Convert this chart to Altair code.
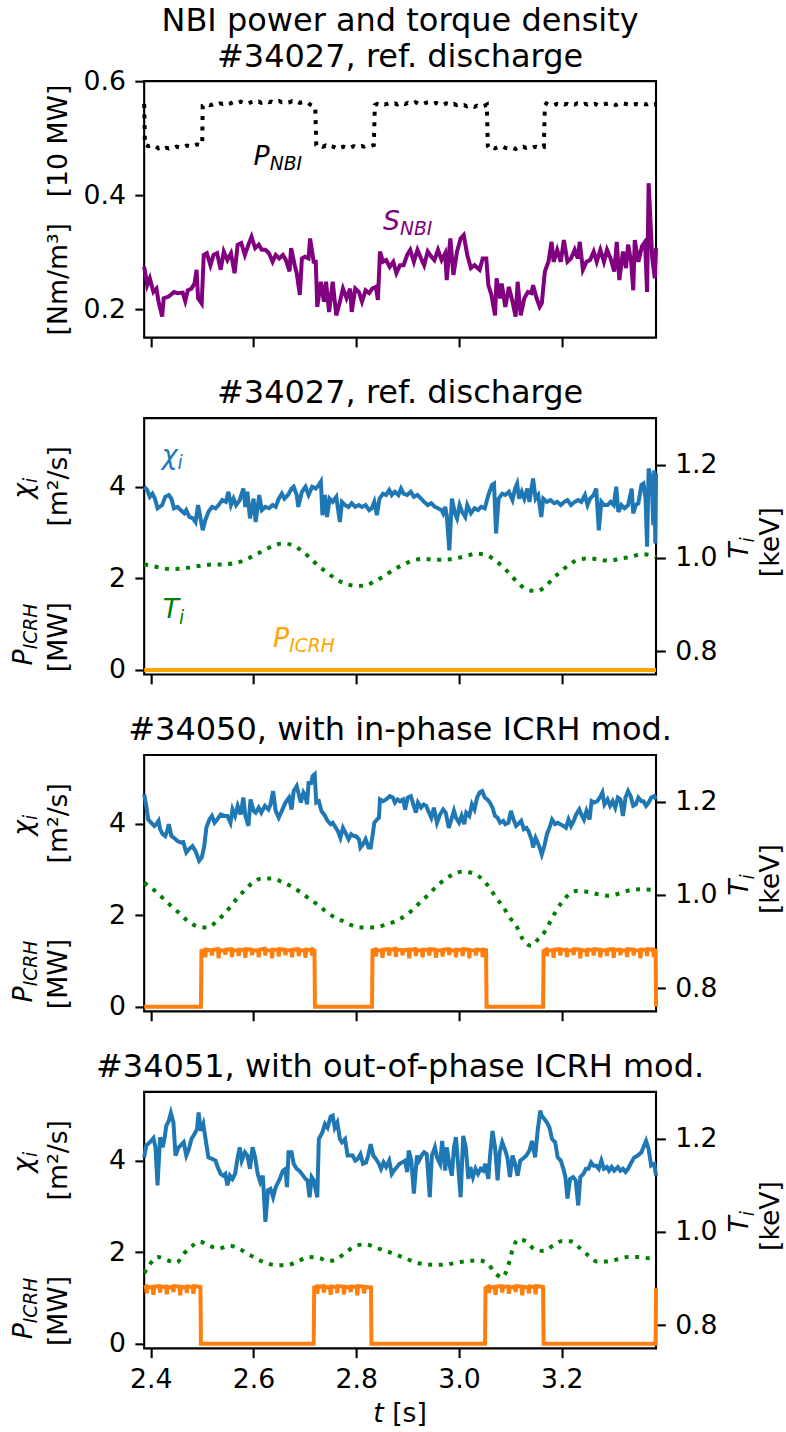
import altair as alt
import pandas as pd

FONT = "DejaVu Sans"
XDOM = [2.387, 3.3834]
W, H = 512, 256.5
FS, SFS, TFS = 26.7, 18.7, 32
LW = 4.0
TICK = 9.3
BLUE, GREEN, PURPLE = "#1f77b4", "#008000", "#800080"
ORANGE, TORANGE = "#FFA500", "#ff7f0e"
X_TICKS = [2.4, 2.6, 2.8, 3.0, 3.2]

# ---------------- panel 1: NBI power [10 MW] and torque density [Nm/m^3]
pnbi = [
    (2.387, 0.560), (2.3885, 0.488), (2.390, 0.488), (2.395, 0.486), (2.400, 0.487), (2.405, 0.484),
    (2.410, 0.485), (2.415, 0.482), (2.420, 0.484), (2.425, 0.481), (2.430, 0.483), (2.435, 0.482),
    (2.440, 0.484), (2.445, 0.483), (2.450, 0.485), (2.455, 0.484), (2.460, 0.486), (2.465, 0.485),
    (2.470, 0.487), (2.475, 0.486), (2.480, 0.488), (2.485, 0.487), (2.490, 0.489), (2.495, 0.488),
    (2.500, 0.489), (2.501, 0.557), (2.505, 0.558), (2.510, 0.560), (2.515, 0.558), (2.520, 0.559),
    (2.525, 0.561), (2.530, 0.559), (2.535, 0.561), (2.540, 0.560), (2.545, 0.562), (2.550, 0.560),
    (2.555, 0.561), (2.560, 0.563), (2.565, 0.561), (2.570, 0.562), (2.575, 0.564), (2.580, 0.562),
    (2.585, 0.563), (2.590, 0.561), (2.595, 0.563), (2.600, 0.564), (2.605, 0.562), (2.610, 0.564),
    (2.615, 0.562), (2.620, 0.563), (2.625, 0.565), (2.630, 0.563), (2.635, 0.564), (2.640, 0.562),
    (2.645, 0.564), (2.650, 0.565), (2.655, 0.563), (2.660, 0.564), (2.665, 0.562), (2.670, 0.563),
    (2.675, 0.565), (2.680, 0.563), (2.685, 0.564), (2.690, 0.562), (2.695, 0.563), (2.700, 0.561),
    (2.705, 0.562), (2.710, 0.559), (2.715, 0.557), (2.720, 0.555), (2.722, 0.488), (2.725, 0.486),
    (2.730, 0.488), (2.735, 0.485), (2.740, 0.487), (2.745, 0.484), (2.750, 0.486), (2.755, 0.485),
    (2.760, 0.483), (2.765, 0.486), (2.770, 0.484), (2.775, 0.485), (2.780, 0.483), (2.785, 0.485),
    (2.790, 0.484), (2.795, 0.486), (2.800, 0.484), (2.805, 0.485), (2.810, 0.486), (2.815, 0.485),
    (2.820, 0.487), (2.825, 0.486), (2.830, 0.487), (2.834, 0.488), (2.836, 0.558), (2.840, 0.560),
    (2.845, 0.559), (2.850, 0.561), (2.855, 0.559), (2.860, 0.560), (2.865, 0.562), (2.870, 0.560),
    (2.875, 0.561), (2.880, 0.559), (2.885, 0.561), (2.890, 0.562), (2.895, 0.560), (2.900, 0.562),
    (2.905, 0.560), (2.910, 0.561), (2.915, 0.563), (2.920, 0.561), (2.925, 0.562), (2.930, 0.560),
    (2.935, 0.562), (2.940, 0.563), (2.945, 0.561), (2.950, 0.560), (2.955, 0.562), (2.960, 0.560),
    (2.965, 0.561), (2.970, 0.559), (2.975, 0.561), (2.980, 0.560), (2.985, 0.558), (2.990, 0.560),
    (2.995, 0.558), (3.000, 0.559), (3.005, 0.557), (3.010, 0.558), (3.015, 0.556), (3.020, 0.558),
    (3.025, 0.557), (3.030, 0.555), (3.035, 0.557), (3.040, 0.555), (3.045, 0.556), (3.050, 0.557),
    (3.054, 0.559), (3.056, 0.486), (3.060, 0.481), (3.065, 0.484), (3.070, 0.482), (3.075, 0.484),
    (3.080, 0.483), (3.085, 0.485), (3.090, 0.483), (3.095, 0.482), (3.100, 0.484), (3.105, 0.483),
    (3.110, 0.481), (3.115, 0.484), (3.120, 0.483), (3.125, 0.485), (3.130, 0.483), (3.135, 0.484),
    (3.140, 0.482), (3.145, 0.484), (3.150, 0.485), (3.155, 0.484), (3.160, 0.486), (3.165, 0.485),
    (3.167, 0.557), (3.170, 0.561), (3.175, 0.559), (3.180, 0.560), (3.185, 0.558), (3.190, 0.560),
    (3.195, 0.559), (3.200, 0.561), (3.205, 0.559), (3.210, 0.560), (3.215, 0.558), (3.220, 0.560),
    (3.225, 0.559), (3.230, 0.561), (3.235, 0.560), (3.240, 0.558), (3.245, 0.560), (3.250, 0.559),
    (3.255, 0.561), (3.260, 0.559), (3.265, 0.560), (3.270, 0.558), (3.275, 0.560), (3.280, 0.559),
    (3.285, 0.560), (3.290, 0.561), (3.295, 0.559), (3.300, 0.560), (3.305, 0.558), (3.310, 0.560),
    (3.315, 0.559), (3.320, 0.561), (3.325, 0.560), (3.330, 0.559), (3.335, 0.561), (3.340, 0.559),
    (3.345, 0.560), (3.350, 0.559), (3.355, 0.561), (3.360, 0.560), (3.365, 0.559), (3.370, 0.561),
    (3.375, 0.560), (3.380, 0.559), (3.3834, 0.560),
]

snbi = [
    (2.387, 0.274), (2.393, 0.242), (2.398, 0.254), (2.405, 0.230), (2.411, 0.236), (2.415, 0.213),
    (2.422, 0.187), (2.425, 0.219), (2.435, 0.222), (2.445, 0.230), (2.452, 0.228), (2.462, 0.229),
    (2.467, 0.214), (2.472, 0.233), (2.479, 0.236), (2.485, 0.245), (2.489, 0.269), (2.492, 0.219),
    (2.499, 0.210), (2.503, 0.295), (2.509, 0.298), (2.516, 0.277), (2.522, 0.295), (2.529, 0.298),
    (2.536, 0.269), (2.542, 0.301), (2.549, 0.286), (2.556, 0.298), (2.563, 0.263), (2.569, 0.313),
    (2.576, 0.316), (2.583, 0.295), (2.590, 0.313), (2.596, 0.327), (2.603, 0.307), (2.610, 0.313),
    (2.616, 0.304), (2.623, 0.304), (2.630, 0.298), (2.637, 0.283), (2.643, 0.295), (2.650, 0.289),
    (2.657, 0.295), (2.663, 0.286), (2.670, 0.266), (2.673, 0.307), (2.680, 0.277), (2.684, 0.263),
    (2.690, 0.225), (2.694, 0.289), (2.700, 0.292), (2.707, 0.289), (2.710, 0.324), (2.717, 0.283),
    (2.721, 0.283), (2.724, 0.204), (2.731, 0.248), (2.737, 0.213), (2.741, 0.248), (2.747, 0.195),
    (2.754, 0.248), (2.761, 0.189), (2.768, 0.213), (2.774, 0.236), (2.781, 0.219), (2.788, 0.236),
    (2.791, 0.195), (2.798, 0.236), (2.805, 0.230), (2.811, 0.213), (2.818, 0.233), (2.825, 0.228),
    (2.831, 0.236), (2.838, 0.239), (2.842, 0.216), (2.846, 0.301), (2.852, 0.283), (2.858, 0.286),
    (2.865, 0.274), (2.872, 0.283), (2.878, 0.263), (2.885, 0.277), (2.892, 0.277), (2.899, 0.295),
    (2.905, 0.304), (2.912, 0.283), (2.919, 0.304), (2.926, 0.289), (2.932, 0.277), (2.939, 0.301),
    (2.946, 0.292), (2.952, 0.286), (2.959, 0.304), (2.966, 0.286), (2.973, 0.298), (2.976, 0.251),
    (2.983, 0.324), (2.989, 0.260), (2.996, 0.301), (3.003, 0.324), (3.009, 0.330), (3.016, 0.295),
    (3.023, 0.272), (3.030, 0.277), (3.040, 0.269), (3.046, 0.289), (3.053, 0.289), (3.057, 0.242),
    (3.063, 0.225), (3.070, 0.189), (3.073, 0.254), (3.080, 0.219), (3.083, 0.245), (3.090, 0.204),
    (3.097, 0.239), (3.104, 0.213), (3.110, 0.187), (3.114, 0.248), (3.120, 0.189), (3.127, 0.219),
    (3.134, 0.230), (3.141, 0.228), (3.144, 0.242), (3.151, 0.219), (3.157, 0.204), (3.161, 0.210),
    (3.167, 0.266), (3.174, 0.283), (3.180, 0.318), (3.184, 0.283), (3.191, 0.304), (3.198, 0.283),
    (3.204, 0.321), (3.211, 0.283), (3.218, 0.289), (3.225, 0.304), (3.231, 0.289), (3.235, 0.318),
    (3.241, 0.269), (3.248, 0.283), (3.255, 0.286), (3.262, 0.301), (3.268, 0.283), (3.275, 0.304),
    (3.282, 0.283), (3.288, 0.304), (3.295, 0.289), (3.302, 0.266), (3.307, 0.318), (3.312, 0.251),
    (3.319, 0.301), (3.325, 0.272), (3.329, 0.313), (3.335, 0.283), (3.339, 0.233), (3.342, 0.321),
    (3.349, 0.283), (3.356, 0.310), (3.362, 0.318), (3.366, 0.230), (3.369, 0.421), (3.376, 0.289),
    (3.381, 0.254), (3.3834, 0.307),
]

# ---------------- panel 2: #34027 reference discharge
chi2 = [
    (2.387, 4.00), (2.393, 3.93), (2.398, 3.78), (2.403, 3.85), (2.408, 3.74), (2.413, 3.53),
    (2.422, 3.60), (2.428, 3.78), (2.435, 3.82), (2.440, 3.74), (2.445, 3.53), (2.452, 3.56),
    (2.458, 3.49), (2.465, 3.42), (2.469, 3.49), (2.475, 3.34), (2.482, 3.31), (2.487, 3.23),
    (2.492, 3.60), (2.495, 3.42), (2.501, 3.05), (2.506, 3.27), (2.512, 3.45), (2.519, 3.56),
    (2.526, 3.53), (2.532, 3.60), (2.539, 3.71), (2.546, 3.67), (2.551, 3.89), (2.556, 3.60),
    (2.561, 3.74), (2.566, 3.60), (2.573, 3.71), (2.580, 3.96), (2.584, 3.56), (2.588, 3.89),
    (2.593, 3.31), (2.600, 3.74), (2.604, 3.23), (2.611, 3.82), (2.616, 3.49), (2.623, 3.56),
    (2.630, 3.53), (2.637, 3.60), (2.643, 3.56), (2.649, 3.74), (2.655, 3.85), (2.660, 3.74),
    (2.667, 3.82), (2.674, 3.96), (2.678, 4.00), (2.684, 3.82), (2.687, 3.56), (2.694, 3.89),
    (2.701, 4.00), (2.707, 3.82), (2.714, 4.00), (2.721, 3.96), (2.727, 4.04), (2.731, 4.11),
    (2.734, 3.38), (2.739, 3.82), (2.743, 3.34), (2.748, 3.74), (2.754, 3.67), (2.761, 3.78),
    (2.768, 3.23), (2.772, 3.67), (2.778, 3.60), (2.785, 3.56), (2.791, 3.64), (2.798, 3.56),
    (2.805, 3.60), (2.811, 3.56), (2.818, 3.60), (2.825, 3.49), (2.830, 3.53), (2.835, 3.67),
    (2.840, 3.38), (2.845, 3.74), (2.852, 3.85), (2.858, 3.82), (2.864, 3.93), (2.869, 3.82),
    (2.875, 3.89), (2.882, 3.82), (2.887, 3.96), (2.892, 3.85), (2.899, 3.82), (2.906, 3.89),
    (2.912, 3.78), (2.919, 3.82), (2.926, 3.74), (2.932, 3.67), (2.939, 3.60), (2.946, 3.64),
    (2.953, 3.56), (2.959, 3.53), (2.966, 3.49), (2.969, 3.42), (2.973, 3.56), (2.976, 3.38),
    (2.981, 2.61), (2.986, 3.74), (2.992, 3.42), (2.996, 3.31), (3.001, 3.60), (3.006, 3.45),
    (3.012, 3.34), (3.016, 3.60), (3.023, 3.42), (3.030, 3.53), (3.037, 3.49), (3.043, 3.56),
    (3.050, 3.53), (3.057, 3.82), (3.064, 4.04), (3.068, 4.07), (3.072, 2.98), (3.077, 3.74),
    (3.084, 3.85), (3.090, 3.82), (3.097, 3.89), (3.104, 3.71), (3.109, 3.96), (3.113, 4.07),
    (3.117, 3.74), (3.122, 3.89), (3.127, 3.74), (3.133, 3.96), (3.137, 3.67), (3.144, 4.18),
    (3.149, 3.74), (3.154, 3.82), (3.160, 3.34), (3.164, 3.74), (3.171, 3.67), (3.178, 3.71),
    (3.185, 3.64), (3.191, 3.67), (3.198, 3.60), (3.205, 3.67), (3.211, 3.71), (3.218, 3.60),
    (3.225, 3.67), (3.232, 3.71), (3.238, 3.67), (3.245, 3.82), (3.250, 3.60), (3.255, 3.74),
    (3.262, 3.82), (3.267, 3.96), (3.272, 3.05), (3.277, 3.67), (3.282, 3.60), (3.289, 3.60),
    (3.295, 3.67), (3.301, 3.60), (3.306, 4.00), (3.310, 3.45), (3.316, 3.60), (3.322, 3.53),
    (3.329, 3.60), (3.336, 3.96), (3.339, 3.42), (3.344, 3.60), (3.349, 3.64), (3.355, 4.04),
    (3.359, 4.07), (3.363, 3.74), (3.366, 2.69), (3.369, 4.40), (3.375, 4.11), (3.378, 3.16),
    (3.380, 4.36), (3.382, 2.76), (3.3834, 4.29),
]
ti2 = [
    (2.387, 0.986), (2.398, 0.984), (2.418, 0.979), (2.438, 0.976), (2.461, 0.977), (2.482, 0.981),
    (2.502, 0.984), (2.522, 0.986), (2.543, 0.986), (2.563, 0.989), (2.583, 0.995), (2.602, 1.006),
    (2.620, 1.016), (2.638, 1.026), (2.657, 1.031), (2.677, 1.027), (2.695, 1.014), (2.711, 0.999),
    (2.727, 0.982), (2.743, 0.969), (2.761, 0.954), (2.779, 0.945), (2.799, 0.940), (2.818, 0.941),
    (2.837, 0.951), (2.857, 0.963), (2.873, 0.975), (2.892, 0.986), (2.911, 0.995), (2.931, 0.998),
    (2.951, 0.996), (2.971, 0.996), (2.993, 0.999), (3.013, 1.004), (3.033, 1.009), (3.053, 1.006),
    (3.070, 0.995), (3.087, 0.979), (3.101, 0.963), (3.115, 0.946), (3.133, 0.932), (3.151, 0.929),
    (3.168, 0.939), (3.183, 0.956), (3.198, 0.971), (3.215, 0.986), (3.234, 0.997), (3.254, 0.999),
    (3.274, 0.996), (3.294, 0.994), (3.314, 0.999), (3.334, 1.002), (3.355, 1.008), (3.373, 1.006),
    (3.3834, 1.002),
]
icrh2 = [(2.387, 0.0), (3.3834, 0.0)]

# ---------------- panel 3: #34050 in-phase ICRH modulation
chi3 = [
    (2.387, 4.64), (2.391, 4.39), (2.395, 4.09), (2.401, 4.02), (2.407, 3.95), (2.411, 3.99),
    (2.415, 4.06), (2.418, 3.88), (2.423, 3.77), (2.428, 3.73), (2.432, 3.84), (2.435, 3.99),
    (2.440, 3.73), (2.445, 3.69), (2.452, 3.62), (2.458, 3.59), (2.463, 3.60), (2.469, 3.37),
    (2.474, 3.44), (2.481, 3.51), (2.487, 3.40), (2.494, 3.19), (2.499, 3.26), (2.504, 3.51),
    (2.508, 3.91), (2.514, 4.09), (2.519, 4.17), (2.524, 4.02), (2.529, 4.09), (2.536, 4.20),
    (2.543, 4.17), (2.549, 4.17), (2.555, 4.02), (2.559, 4.31), (2.564, 4.17), (2.569, 4.39),
    (2.575, 4.20), (2.580, 4.57), (2.584, 4.17), (2.590, 3.95), (2.594, 4.53), (2.600, 4.28),
    (2.604, 4.24), (2.610, 4.35), (2.615, 4.24), (2.622, 4.39), (2.629, 4.31), (2.633, 4.42),
    (2.638, 4.71), (2.643, 4.28), (2.649, 4.13), (2.655, 4.28), (2.662, 4.46), (2.669, 4.57),
    (2.674, 4.31), (2.678, 4.71), (2.684, 4.82), (2.688, 4.64), (2.692, 4.46), (2.697, 4.68),
    (2.701, 4.60), (2.704, 4.42), (2.707, 4.89), (2.712, 4.89), (2.715, 5.04), (2.719, 5.08),
    (2.722, 4.46), (2.727, 4.49), (2.732, 4.28), (2.739, 4.17), (2.744, 4.06), (2.750, 3.99),
    (2.754, 4.02), (2.760, 3.91), (2.764, 3.84), (2.769, 3.69), (2.774, 3.91), (2.779, 3.80),
    (2.785, 3.66), (2.790, 3.77), (2.795, 3.73), (2.799, 3.73), (2.805, 3.66), (2.808, 3.48),
    (2.813, 3.55), (2.818, 3.66), (2.824, 3.48), (2.828, 3.48), (2.832, 3.77), (2.835, 4.02),
    (2.840, 4.09), (2.844, 4.13), (2.846, 4.53), (2.852, 4.49), (2.858, 4.53), (2.865, 4.60),
    (2.871, 4.57), (2.875, 4.46), (2.880, 4.53), (2.885, 4.49), (2.891, 4.53), (2.895, 4.31),
    (2.900, 4.57), (2.906, 4.60), (2.911, 4.42), (2.916, 4.24), (2.920, 4.46), (2.926, 4.35),
    (2.931, 4.42), (2.936, 4.39), (2.940, 4.28), (2.946, 4.13), (2.951, 4.35), (2.957, 4.02),
    (2.963, 4.20), (2.969, 4.31), (2.974, 4.24), (2.980, 3.91), (2.985, 4.09), (2.990, 4.28),
    (2.994, 4.13), (3.000, 4.02), (3.005, 4.17), (3.010, 3.99), (3.014, 4.24), (3.020, 4.17),
    (3.025, 4.42), (3.030, 4.31), (3.035, 4.57), (3.040, 4.68), (3.045, 4.71), (3.050, 4.57),
    (3.055, 4.53), (3.060, 4.46), (3.065, 4.35), (3.070, 4.17), (3.075, 4.13), (3.080, 4.02),
    (3.086, 4.06), (3.090, 3.99), (3.096, 4.02), (3.101, 4.28), (3.106, 4.09), (3.111, 3.95),
    (3.115, 3.99), (3.121, 4.06), (3.126, 3.88), (3.131, 3.91), (3.135, 3.84), (3.141, 3.66),
    (3.144, 3.48), (3.149, 3.69), (3.153, 3.59), (3.158, 3.44), (3.161, 3.33), (3.166, 3.51),
    (3.171, 3.77), (3.176, 3.91), (3.181, 4.09), (3.187, 3.99), (3.192, 4.02), (3.197, 3.99),
    (3.203, 3.95), (3.208, 3.91), (3.213, 4.09), (3.218, 3.95), (3.223, 4.06), (3.228, 4.20),
    (3.234, 4.31), (3.238, 4.20), (3.243, 4.09), (3.248, 4.28), (3.254, 4.09), (3.258, 4.49),
    (3.263, 4.46), (3.269, 4.49), (3.274, 4.57), (3.279, 4.68), (3.283, 4.42), (3.289, 4.53),
    (3.294, 4.39), (3.299, 4.49), (3.304, 4.35), (3.309, 4.57), (3.314, 4.53), (3.319, 4.17),
    (3.324, 4.57), (3.329, 4.71), (3.334, 4.60), (3.339, 4.39), (3.344, 4.42), (3.349, 4.57),
    (3.355, 4.49), (3.359, 4.49), (3.364, 4.39), (3.369, 4.46), (3.374, 4.57), (3.380, 4.60),
    (3.3834, 4.53),
]
ti3 = [
    (2.387, 1.026), (2.393, 1.021), (2.411, 1.006), (2.427, 0.989), (2.442, 0.974), (2.457, 0.959),
    (2.472, 0.944), (2.492, 0.932), (2.510, 0.930), (2.526, 0.941), (2.541, 0.957), (2.556, 0.976),
    (2.569, 0.994), (2.583, 1.010), (2.598, 1.026), (2.616, 1.035), (2.637, 1.035), (2.655, 1.028),
    (2.674, 1.018), (2.692, 1.005), (2.709, 0.991), (2.725, 0.979), (2.741, 0.964), (2.759, 0.951),
    (2.778, 0.942), (2.798, 0.932), (2.818, 0.930), (2.838, 0.931), (2.858, 0.936), (2.877, 0.944),
    (2.895, 0.955), (2.911, 0.969), (2.926, 0.986), (2.941, 1.001), (2.956, 1.018), (2.971, 1.032),
    (2.989, 1.044), (3.008, 1.050), (3.027, 1.046), (3.045, 1.034), (3.060, 1.014), (3.072, 0.994),
    (3.086, 0.974), (3.099, 0.951), (3.113, 0.930), (3.124, 0.905), (3.140, 0.891), (3.154, 0.905),
    (3.168, 0.923), (3.178, 0.944), (3.188, 0.964), (3.200, 0.984), (3.213, 1.000), (3.232, 1.009),
    (3.252, 1.006), (3.272, 1.001), (3.292, 0.998), (3.312, 1.003), (3.332, 1.010), (3.353, 1.012),
    (3.373, 1.011), (3.3834, 1.010),
]
icrh3 = [
    (2.387, 0.0), (2.4975, 0.0),
    (2.4985, 1.22), (2.5045, 1.24), (2.506, 1.08), (2.5075, 1.25), (2.5175, 1.23), (2.519, 1.12),
    (2.5205, 1.24), (2.5305, 1.26), (2.532, 1.06), (2.5335, 1.24), (2.5435, 1.23), (2.545, 1.14),
    (2.5465, 1.25), (2.5565, 1.26), (2.558, 1.09), (2.5595, 1.24), (2.5695, 1.23), (2.571, 1.11),
    (2.5725, 1.25), (2.5825, 1.24), (2.584, 1.07), (2.5855, 1.26), (2.5955, 1.25), (2.597, 1.13),
    (2.5985, 1.23), (2.6085, 1.24), (2.610, 1.08), (2.6115, 1.25), (2.6215, 1.27), (2.623, 1.12),
    (2.6245, 1.24), (2.6345, 1.23), (2.636, 1.06), (2.6375, 1.25), (2.6475, 1.24), (2.649, 1.10),
    (2.6505, 1.26), (2.6605, 1.25), (2.662, 1.13), (2.6635, 1.23), (2.6735, 1.24), (2.675, 1.08),
    (2.6765, 1.25), (2.6865, 1.26), (2.688, 1.11), (2.6895, 1.24), (2.6995, 1.23), (2.701, 1.07),
    (2.7025, 1.25), (2.7125, 1.24), (2.714, 1.12), (2.7155, 1.25), (2.7185, 1.23), (2.7195, 0.0),
    (2.8305, 0.0),
    (2.8315, 1.23), (2.8365, 1.25), (2.838, 1.10), (2.8395, 1.24), (2.8495, 1.23), (2.851, 1.07),
    (2.8525, 1.25), (2.8625, 1.26), (2.864, 1.12), (2.8655, 1.24), (2.8755, 1.27), (2.877, 1.09),
    (2.8785, 1.25), (2.8885, 1.24), (2.890, 1.13), (2.8915, 1.23), (2.9015, 1.25), (2.903, 1.06),
    (2.9045, 1.24), (2.9145, 1.26), (2.916, 1.11), (2.9175, 1.24), (2.9275, 1.23), (2.929, 1.08),
    (2.9305, 1.25), (2.9405, 1.24), (2.942, 1.12), (2.9435, 1.26), (2.9535, 1.25), (2.955, 1.07),
    (2.9565, 1.23), (2.9665, 1.24), (2.968, 1.10), (2.9695, 1.25), (2.9795, 1.26), (2.981, 1.13),
    (2.9825, 1.24), (2.9925, 1.23), (2.994, 1.08), (2.9955, 1.25), (3.0055, 1.24), (3.007, 1.11),
    (3.0085, 1.26), (3.0185, 1.25), (3.020, 1.06), (3.0215, 1.24), (3.0315, 1.23), (3.033, 1.12),
    (3.0345, 1.25), (3.0445, 1.24), (3.046, 1.09), (3.0475, 1.25), (3.0525, 1.24), (3.0535, 0.0),
    (3.1635, 0.0),
    (3.1645, 1.22), (3.1695, 1.25), (3.171, 1.11), (3.1725, 1.24), (3.1825, 1.23), (3.184, 1.07),
    (3.1855, 1.25), (3.1955, 1.26), (3.197, 1.12), (3.1985, 1.24), (3.2085, 1.25), (3.210, 1.09),
    (3.2115, 1.23), (3.2215, 1.24), (3.223, 1.13), (3.2245, 1.26), (3.2345, 1.25), (3.236, 1.06),
    (3.2375, 1.24), (3.2475, 1.23), (3.249, 1.10), (3.2505, 1.25), (3.2605, 1.24), (3.262, 1.12),
    (3.2635, 1.26), (3.2735, 1.25), (3.275, 1.08), (3.2765, 1.24), (3.2865, 1.23), (3.288, 1.11),
    (3.2895, 1.25), (3.2995, 1.26), (3.301, 1.07), (3.3025, 1.24), (3.3125, 1.25), (3.314, 1.13),
    (3.3155, 1.23), (3.3255, 1.24), (3.327, 1.09), (3.3285, 1.26), (3.3385, 1.25), (3.340, 1.12),
    (3.3415, 1.24), (3.3515, 1.23), (3.353, 1.06), (3.3545, 1.25), (3.3645, 1.24), (3.366, 1.11),
    (3.3675, 1.26), (3.3775, 1.25), (3.379, 1.09), (3.3805, 1.24), (3.3825, 1.23), (3.3834, 0.0),
]

# ---------------- panel 4: #34051 out-of-phase ICRH modulation
chi4 = [
    (2.387, 4.07), (2.391, 4.33), (2.398, 4.40), (2.405, 4.49), (2.409, 4.29), (2.413, 3.46),
    (2.418, 4.51), (2.423, 4.29), (2.427, 4.51), (2.430, 4.76), (2.435, 4.87), (2.439, 5.04),
    (2.444, 4.83), (2.448, 4.11), (2.454, 4.29), (2.458, 4.33), (2.464, 4.40), (2.469, 4.11),
    (2.474, 4.25), (2.479, 4.47), (2.485, 4.58), (2.490, 4.69), (2.493, 5.05), (2.497, 4.65),
    (2.502, 4.80), (2.508, 4.36), (2.512, 4.07), (2.519, 4.04), (2.526, 4.00), (2.530, 3.86),
    (2.536, 3.71), (2.541, 3.67), (2.545, 3.71), (2.549, 3.46), (2.554, 3.67), (2.559, 3.60),
    (2.564, 3.71), (2.569, 4.07), (2.573, 4.29), (2.577, 4.00), (2.583, 4.18), (2.588, 4.11),
    (2.593, 3.82), (2.598, 4.29), (2.603, 4.07), (2.608, 3.71), (2.613, 3.53), (2.618, 3.67),
    (2.623, 2.66), (2.628, 3.35), (2.633, 3.38), (2.638, 3.20), (2.643, 3.42), (2.650, 3.57),
    (2.657, 3.78), (2.662, 3.82), (2.665, 3.42), (2.668, 4.18), (2.674, 4.18), (2.678, 3.93),
    (2.684, 3.82), (2.689, 3.78), (2.694, 3.71), (2.701, 3.60), (2.705, 3.57), (2.709, 3.20),
    (2.713, 3.64), (2.717, 3.57), (2.724, 3.20), (2.727, 4.47), (2.734, 4.62), (2.739, 4.80),
    (2.744, 4.72), (2.750, 4.96), (2.754, 4.98), (2.758, 4.72), (2.763, 4.83), (2.768, 4.47),
    (2.772, 4.40), (2.778, 4.47), (2.783, 4.11), (2.788, 4.11), (2.793, 4.11), (2.798, 4.00),
    (2.803, 4.04), (2.808, 4.14), (2.813, 3.93), (2.819, 3.96), (2.823, 4.11), (2.828, 4.36),
    (2.833, 4.11), (2.838, 4.04), (2.844, 3.93), (2.848, 3.82), (2.853, 3.96), (2.858, 3.86),
    (2.864, 4.00), (2.869, 3.71), (2.873, 3.78), (2.879, 3.86), (2.884, 3.93), (2.889, 3.96),
    (2.895, 4.00), (2.899, 3.75), (2.902, 4.22), (2.907, 4.00), (2.912, 3.28), (2.918, 4.11),
    (2.922, 4.00), (2.927, 4.11), (2.932, 4.18), (2.937, 4.14), (2.943, 3.20), (2.947, 4.11),
    (2.953, 4.29), (2.957, 4.07), (2.963, 3.93), (2.967, 4.43), (2.973, 3.78), (2.976, 4.29),
    (2.981, 3.93), (2.986, 3.67), (2.990, 4.29), (2.994, 4.51), (2.998, 3.93), (3.003, 3.20),
    (3.008, 4.54), (3.013, 4.29), (3.018, 3.60), (3.022, 3.86), (3.027, 3.64), (3.032, 3.82),
    (3.037, 3.71), (3.042, 3.82), (3.047, 3.78), (3.051, 3.93), (3.057, 3.60), (3.060, 4.07),
    (3.065, 4.65), (3.070, 4.29), (3.075, 3.57), (3.079, 4.18), (3.084, 4.40), (3.089, 4.25),
    (3.094, 4.07), (3.099, 3.64), (3.104, 4.11), (3.109, 3.93), (3.114, 3.67), (3.119, 4.00),
    (3.124, 4.04), (3.131, 4.11), (3.137, 4.22), (3.142, 4.43), (3.148, 4.07), (3.153, 4.65),
    (3.158, 5.09), (3.161, 4.98), (3.166, 4.91), (3.171, 4.83), (3.176, 4.72), (3.181, 4.47),
    (3.187, 4.40), (3.192, 4.07), (3.198, 4.00), (3.203, 3.82), (3.207, 3.64), (3.211, 3.17),
    (3.216, 3.60), (3.222, 3.64), (3.227, 3.57), (3.232, 3.02), (3.236, 3.64), (3.242, 3.71),
    (3.247, 3.82), (3.252, 3.82), (3.257, 3.96), (3.262, 3.89), (3.267, 3.89), (3.272, 3.82),
    (3.277, 4.00), (3.282, 3.82), (3.288, 3.86), (3.292, 3.78), (3.297, 3.86), (3.302, 3.78),
    (3.309, 3.86), (3.314, 3.78), (3.319, 3.82), (3.324, 3.75), (3.329, 3.82), (3.334, 3.93),
    (3.341, 4.07), (3.348, 4.11), (3.355, 4.18), (3.359, 4.29), (3.364, 4.43), (3.369, 4.25),
    (3.374, 3.89), (3.380, 3.93), (3.3834, 3.67),
]
ti4 = [
    (2.387, 0.911), (2.398, 0.930), (2.413, 0.946), (2.432, 0.939), (2.450, 0.934), (2.465, 0.954),
    (2.481, 0.970), (2.495, 0.979), (2.514, 0.970), (2.532, 0.964), (2.553, 0.970), (2.571, 0.964),
    (2.590, 0.952), (2.608, 0.941), (2.627, 0.932), (2.647, 0.928), (2.667, 0.929), (2.687, 0.937),
    (2.707, 0.946), (2.727, 0.944), (2.746, 0.937), (2.764, 0.943), (2.781, 0.957), (2.799, 0.970),
    (2.818, 0.973), (2.838, 0.966), (2.857, 0.959), (2.877, 0.951), (2.896, 0.943), (2.916, 0.934),
    (2.936, 0.930), (2.956, 0.929), (2.976, 0.930), (2.996, 0.934), (3.016, 0.937), (3.037, 0.939),
    (3.057, 0.930), (3.070, 0.912), (3.084, 0.902), (3.094, 0.921), (3.104, 0.961), (3.115, 0.984),
    (3.131, 0.979), (3.146, 0.963), (3.164, 0.959), (3.183, 0.970), (3.201, 0.980), (3.220, 0.979),
    (3.236, 0.964), (3.252, 0.949), (3.269, 0.936), (3.289, 0.936), (3.309, 0.941), (3.329, 0.946),
    (3.349, 0.946), (3.373, 0.943), (3.3834, 0.943),
]
icrh4 = [
    (2.387, 1.23), (2.3905, 1.25), (2.392, 1.10), (2.3935, 1.24), (2.4035, 1.23), (2.405, 1.07),
    (2.4065, 1.25), (2.4165, 1.26), (2.418, 1.12), (2.4195, 1.24), (2.4295, 1.25), (2.431, 1.08),
    (2.4325, 1.23), (2.4425, 1.24), (2.444, 1.13), (2.4455, 1.26), (2.4555, 1.25), (2.457, 1.06),
    (2.4585, 1.24), (2.4685, 1.23), (2.470, 1.11), (2.4715, 1.25), (2.4815, 1.24), (2.483, 1.09),
    (2.4845, 1.26), (2.4965, 1.24), (2.4975, 0.0),
    (2.717, 0.0),
    (2.718, 1.23), (2.7225, 1.25), (2.724, 1.09), (2.7255, 1.24), (2.7355, 1.26), (2.737, 1.12),
    (2.7385, 1.24), (2.7485, 1.23), (2.750, 1.07), (2.7515, 1.25), (2.7615, 1.24), (2.763, 1.11),
    (2.7645, 1.26), (2.7745, 1.25), (2.776, 1.08), (2.7775, 1.24), (2.7875, 1.23), (2.789, 1.13),
    (2.7905, 1.25), (2.8005, 1.24), (2.802, 1.06), (2.8035, 1.26), (2.8135, 1.25), (2.815, 1.10),
    (2.8165, 1.24), (2.8285, 1.23), (2.8295, 0.0),
    (3.0505, 0.0),
    (3.0515, 1.22), (3.0565, 1.25), (3.058, 1.11), (3.0595, 1.24), (3.0695, 1.23), (3.071, 1.07),
    (3.0725, 1.25), (3.0825, 1.26), (3.084, 1.12), (3.0855, 1.24), (3.0955, 1.25), (3.097, 1.09),
    (3.0985, 1.23), (3.1085, 1.24), (3.110, 1.13), (3.1115, 1.26), (3.1215, 1.25), (3.123, 1.06),
    (3.1245, 1.24), (3.1345, 1.23), (3.136, 1.10), (3.1375, 1.25), (3.1475, 1.24), (3.149, 1.08),
    (3.1505, 1.26), (3.1635, 1.24), (3.1645, 0.0),
    (3.3825, 0.0), (3.3834, 1.22),
]

TITLES = [
    ["NBI power and torque density", "#34027, ref. discharge"],
    "#34027, ref. discharge",
    "#34050, with in-phase ICRH mod.",
    "#34051, with out-of-phase ICRH mod.",
]


def frame(pairs):
    return pd.DataFrame(pairs, columns=["t", "v"])


def xenc(labels):
    return alt.X("t:Q", scale=alt.Scale(domain=XDOM, nice=False, zero=False),
                 axis=alt.Axis(values=X_TICKS, format=".1f", labels=labels, title=None,
                               labelPadding=9.3))


def yenc(domain, values, fmt, orient):
    return alt.Y("v:Q", scale=alt.Scale(domain=domain, nice=False, zero=False),
                 axis=alt.Axis(values=values, format=fmt, orient=orient, title=None))


def line(pairs, xe, ye, color, dotted=False, interp=None):
    kw = dict(color=color, strokeWidth=LW)
    if dotted:
        kw.update(strokeDash=[4, 6.6], strokeCap="butt")
    if interp:
        kw["interpolate"] = interp
    return alt.Chart(frame(pairs)).mark_line(**kw).encode(x=xe, y=ye)


def dtext(t, v, s, xe, ye, size=FS, color="black", dx=0.0, dy=0.0):
    return alt.Chart(frame([(t, v)])).mark_text(
        text=s, font=FONT, fontSize=size, color=color, fontStyle="italic",
        align="left", baseline="alphabetic", dx=dx, dy=dy).encode(x=xe, y=ye)


def sublabel(t, v, main, sub, adv, color, xe, ye):
    return [dtext(t, v, main, xe, ye, color=color),
            dtext(t, v, sub, xe, ye, size=SFS, color=color, dx=adv, dy=5.5)]


def ptext(x, y, s, size=FS, italic=False, angle=0, align="left", dx=0.0, dy=0.0,
          opacity=1.0, color="black"):
    return alt.Chart(pd.DataFrame({"k": [0]})).mark_text(
        text=s, font=FONT, fontSize=size, color=color,
        fontStyle="italic" if italic else "normal", angle=angle, align=align,
        baseline="alphabetic", dx=dx, dy=dy, opacity=opacity).encode(
        x=alt.value(x), y=alt.value(y))


def rot_sub(x, yc, main, sub, adv, subw):
    half = (adv + subw) / 2
    return [ptext(x, yc, main, italic=True, angle=270, dx=-half),
            ptext(x, yc, sub, size=SFS, italic=True, angle=270, dx=-half + adv, dy=5.5)]


def title(text, offset):
    return alt.TitleParams(text=text, font=FONT, fontSize=TFS, fontWeight="normal",
                           color="black", anchor="middle", frame="group", offset=offset,
                           baseline="bottom", lineHeight=35.5)


# ---------------- build panel 1
x1 = xenc(False)
y1 = yenc([0.15, 0.6], [0.2, 0.4, 0.6], ".1f", "left")
p1 = alt.layer(
    line(pnbi, x1, y1, "black", dotted=True),
    line(snbi, x1, y1, PURPLE),
    *sublabel(2.6, 0.453, "P", "NBI", 16.1, "black", x1, y1),
    *sublabel(2.852, 0.339, "S", "NBI", 17.0, PURPLE, x1, y1),
    ptext(-77.0, 59.8, "[10 MW]", angle=270, align="center"),
    ptext(-77.0, 198.1, "[Nm/m³]", angle=270, align="center"),
    ptext(-112.3, 128.0, "P", italic=True, angle=270, align="center", opacity=0),
).properties(width=W, height=H, title=title(TITLES[0], -37.4))


def panel(chi, ti, icrh, icolor, ttl, xlabels, inline=False, xtitle=False):
    xe = xenc(xlabels)
    yl = yenc([-0.1, 5.5], [0, 2, 4], "d", "left")
    yr = yenc([0.75, 1.3], [0.8, 1.0, 1.2], ".1f", "right")
    left_layers = [line(chi, xe, yl, BLUE), line(icrh, xe, yl, icolor)]
    if inline:
        left_layers += sublabel(2.421, 4.5, "χ", "i", 15.8, BLUE, xe, yl)
        left_layers += sublabel(2.423, 1.125, "T", "i", 16.3, GREEN, xe, yl)
        left_layers += sublabel(2.638, 0.507, "P", "ICRH", 16.1, ORANGE, xe, yl)
    left = alt.layer(*left_layers)
    right = line(ti, xe, yr, GREEN, dotted=True, interp="monotone")
    labels = []
    labels += rot_sub(-112.3, 70.3, "χ", "i", 15.8, 5.2)
    labels.append(ptext(-77.0, 68.3, "[m²/s]", angle=270, align="center"))
    labels += rot_sub(-112.3, 216.6, "P", "ICRH", 16.1, 45.6)
    labels.append(ptext(-77.0, 219.1, "[MW]", angle=270, align="center"))
    labels += rot_sub(604.3, 130.0, "T", "i", 16.3, 5.2)
    labels.append(ptext(634.7, 124.1, "[keV]", angle=270, align="center"))
    if xtitle:
        labels.append(ptext(229.1, H + 73.8, "t", italic=True))
        labels.append(ptext(248.1, H + 73.8, "[s]"))
    return alt.layer(left, right, *labels).resolve_scale(y="independent").properties(
        width=W, height=H, title=title(ttl, -24))


p2 = panel(chi2, ti2, icrh2, ORANGE, TITLES[1], False, inline=True)
p3 = panel(chi3, ti3, icrh3, TORANGE, TITLES[2], False)
p4 = panel(chi4, ti4, icrh4, TORANGE, TITLES[3], True, xtitle=True)

chart = alt.vconcat(p1, p2, p3, p4, spacing=26).properties(
    padding={"left": 9.2, "top": 3, "right": 0, "bottom": 0},
    background="white",
).configure_view(
    stroke="black", strokeWidth=2.1,
).configure_axis(
    labelFont=FONT, labelFontSize=FS, labelColor="black", tickColor="black",
    tickWidth=2.1, tickSize=TICK, domain=False, grid=False, labelFlush=False,
    labelOverlap=False, labelPadding=9.3,
)

chart.save("out.html", embed_options={"renderer": "svg", "actions": False})
